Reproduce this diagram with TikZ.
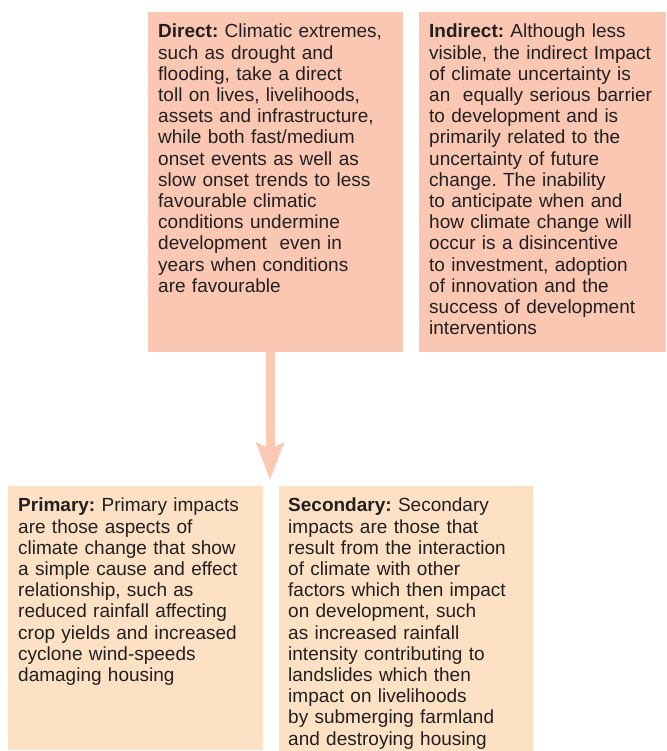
\documentclass[tikz,border=0pt]{standalone}
\usepackage{fontspec}
\setmainfont{Liberation Sans}
\usetikzlibrary{arrows.meta}
\definecolor{topfill}{HTML}{F9C7B2}
\definecolor{botfill}{HTML}{FDE1C4}
\definecolor{arrowcol}{HTML}{FAC8B3}
\definecolor{txt}{HTML}{231F20}
\tikzset{
  boxtext/.style={anchor=north west, inner sep=0pt, text width=250pt, align=left,
    text=txt, font=\fontsize{19}{21.2}\selectfont\frenchspacing},
}
\begin{document}
\begin{tikzpicture}[x=1pt,y=-1pt]
\useasboundingbox (0,0) rectangle (666,751);
% boxes
\fill[topfill] (148,12) rectangle (403,352);
\fill[topfill] (419,12) rectangle (666,352);
\fill[botfill] (8,486) rectangle (263,750);
\fill[botfill] (279,486) rectangle (533,751);
\coordinate (dsouth) at (270,352);
\coordinate (tip) at (270,480);
\draw[arrowcol, line width=9pt, -{Stealth[length=37pt,width=27pt,inset=6pt]}] (dsouth) -- (tip);
% texts
\node[boxtext] (direct) at (158,24) {\textbf{Direct:} Climatic extremes,\\
such as drought and\\
flooding, take a direct\\
toll on lives, livelihoods,\\
assets and infrastructure,\\
while both fast/medium\\
onset events as well as\\
slow onset trends to less\\
favourable climatic\\
conditions undermine\\
development\ \ even in\\
years when conditions\\
are favourable};
\node[boxtext] (indirect) at (429,24) {\textbf{Indirect:} Although less\\
visible, the indirect Impact\\
of climate uncertainty is\\
an\ \ equally serious barrier\\
to development and is\\
primarily related to the\\
uncertainty of future\\
change. The inability\\
to anticipate when and\\
how climate change will\\
occur is a disincentive\\
to investment, adoption\\
of innovation and the\\
success of development\\
interventions};
\node[boxtext] (primary) at (18,498) {\textbf{Primary:} Primary impacts\\
are those aspects of\\
climate change that show\\
a simple cause and effect\\
relationship, such as\\
reduced rainfall affecting\\
crop yields and increased\\
cyclone wind-speeds\\
damaging housing};
\node[boxtext] (secondary) at (288,498) {\textbf{Secondary:} Secondary\\
impacts are those that\\
result from the interaction\\
of climate with other\\
factors which then impact\\
on development, such\\
as increased rainfall\\
intensity contributing to\\
landslides which then\\
impact on livelihoods\\
by submerging farmland\\
and destroying housing};
\end{tikzpicture}
\end{document}
